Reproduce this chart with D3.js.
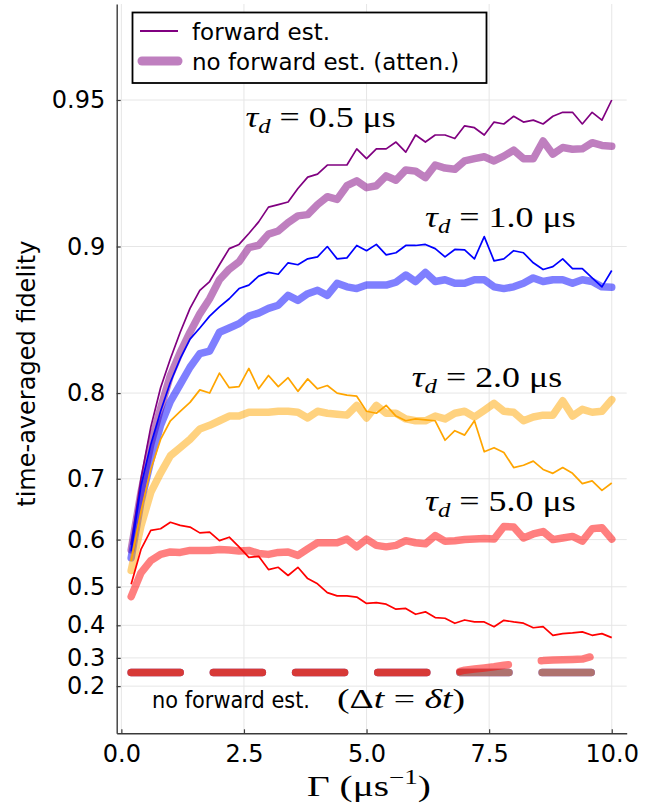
<!DOCTYPE html>
<html>
<head>
<meta charset="utf-8">
<script src="https://cdn.jsdelivr.net/npm/d3@7"></script>
<style>
  body { margin: 0; background: #fff; }
  svg { display: block; }
</style>
</head>
<body>
<svg id="chart" width="659" height="804"></svg>
<script>
// Measurement rate Γ (μs⁻¹)
const gamma = [0.2, 0.4, 0.6, 0.8, 1.0, 1.2, 1.4, 1.6, 1.8, 2.0,
               2.2, 2.4, 2.6, 2.8, 3.0, 3.2, 3.4, 3.6, 3.8, 4.0,
               4.2, 4.4, 4.6, 4.8, 5.0, 5.2, 5.4, 5.6, 5.8, 6.0,
               6.2, 6.4, 6.6, 6.8, 7.0, 7.2, 7.4, 7.6, 7.8, 8.0,
               8.2, 8.4, 8.6, 8.8, 9.0, 9.2, 9.4, 9.6, 9.8, 10.0];

// τd = 0.5 μs
const fwd05 = [0.590, 0.700, 0.765, 0.805, 0.830, 0.850, 0.866, 0.877, 0.882, 0.891,
               0.899, 0.901, 0.906, 0.911, 0.917, 0.918, 0.919, 0.924, 0.928, 0.929,
               0.932, 0.932, 0.932, 0.937, 0.934, 0.937, 0.937, 0.939, 0.936, 0.941,
               0.939, 0.941, 0.941, 0.940, 0.9435, 0.943, 0.941, 0.9445, 0.944, 0.946,
               0.9445, 0.945, 0.944, 0.946, 0.947, 0.947, 0.944, 0.947, 0.945, 0.950];
const att05 = [0.580, 0.680, 0.745, 0.785, 0.816, 0.835, 0.850, 0.8625, 0.872, 0.883,
               0.8887, 0.8925, 0.8995, 0.9006, 0.9057, 0.9071, 0.9107, 0.9135, 0.914, 0.918,
               0.921, 0.920, 0.925, 0.9267, 0.9243, 0.925, 0.9284, 0.9269, 0.9304, 0.930,
               0.9278, 0.932, 0.931, 0.9306, 0.9333, 0.934, 0.9346, 0.9333, 0.9348, 0.9366,
               0.934, 0.934, 0.9393, 0.9354, 0.9374, 0.9369, 0.937, 0.9388, 0.938, 0.9378];
const dt05  = [0.25, 0.25, 0.25, 0.25, 0.25, 0.25, 0.25, 0.25, 0.25, 0.25,
               0.25, 0.25, 0.25, 0.25, 0.25, 0.25, 0.25, 0.25, 0.25, 0.25,
               0.25, 0.25, 0.25, 0.25, 0.25, 0.25, 0.25, 0.25, 0.25, 0.25,
               0.25, 0.25, 0.25, 0.25, 0.25, 0.25, 0.25, 0.25, 0.25, 0.25,
               0.25, 0.25, 0.25, 0.25, 0.25, 0.25, 0.25, 0.25, 0.25, 0.25];

// τd = 1.0 μs
const fwd10 = [0.577, 0.690, 0.745, 0.782, 0.810, 0.830, 0.845, 0.853, 0.861, 0.867,
               0.872, 0.878, 0.880, 0.885, 0.887, 0.886, 0.892, 0.891, 0.894, 0.895,
               0.900, 0.894, 0.8945, 0.9005, 0.898, 0.901, 0.896, 0.897, 0.9005, 0.9005,
               0.901, 0.899, 0.895, 0.8986, 0.8984, 0.894, 0.9046, 0.893, 0.894, 0.898,
               0.897, 0.892, 0.8885, 0.890, 0.894, 0.889, 0.889, 0.884, 0.879, 0.888];
const att10 = [0.564, 0.665, 0.725, 0.767, 0.792, 0.808, 0.823, 0.834, 0.836, 0.850,
               0.853, 0.856, 0.861, 0.863, 0.866, 0.868, 0.874, 0.871, 0.875, 0.877,
               0.874, 0.881, 0.879, 0.878, 0.880, 0.880, 0.880, 0.8816, 0.8856, 0.882,
               0.887, 0.882, 0.883, 0.881, 0.881, 0.883, 0.883, 0.879, 0.878, 0.879,
               0.881, 0.884, 0.882, 0.883, 0.883, 0.881, 0.883, 0.882, 0.879, 0.8787];
const dt10  = [0.25, 0.25, 0.25, 0.25, 0.25, 0.25, 0.25, 0.25, 0.25, 0.25,
               0.25, 0.25, 0.25, 0.25, 0.25, 0.25, 0.25, 0.25, 0.25, 0.25,
               0.25, 0.25, 0.25, 0.25, 0.25, 0.25, 0.25, 0.25, 0.25, 0.25,
               0.25, 0.25, 0.25, 0.25, 0.25, 0.25, 0.25, 0.25, 0.25, 0.25,
               0.25, 0.25, 0.25, 0.25, 0.25, 0.25, 0.25, 0.25, 0.25, 0.25];

// τd = 2.0 μs
const fwd20 = [0.557, 0.650, 0.713, 0.751, 0.772, 0.782, 0.791, 0.803, 0.800, 0.818,
               0.805, 0.806, 0.822, 0.804, 0.816, 0.806, 0.814, 0.8016, 0.813, 0.804,
               0.807, 0.800, 0.798, 0.797, 0.782, 0.780, 0.788, 0.777, 0.772, 0.774,
               0.773, 0.772, 0.750, 0.761, 0.756, 0.772, 0.736, 0.741, 0.735, 0.7155,
               0.7186, 0.724, 0.713, 0.7076, 0.7155, 0.7076, 0.693, 0.697, 0.683, 0.694];
const att20 = [0.537, 0.625, 0.680, 0.708, 0.731, 0.741, 0.751, 0.763, 0.767, 0.772,
               0.777, 0.777, 0.781, 0.781, 0.781, 0.782, 0.782, 0.781, 0.775, 0.782,
               0.780, 0.779, 0.778, 0.788, 0.775, 0.788, 0.780, 0.780, 0.774, 0.772,
               0.772, 0.777, 0.774, 0.780, 0.782, 0.776, 0.783, 0.790, 0.782, 0.781,
               0.772, 0.776, 0.778, 0.778, 0.7926, 0.777, 0.784, 0.781, 0.782, 0.7936];
const dt20  = [0.25, 0.25, 0.25, 0.25, 0.25, 0.25, 0.25, 0.25, 0.25, 0.25,
               0.25, 0.25, 0.25, 0.25, 0.25, 0.25, 0.25, 0.25, 0.25, 0.25,
               0.25, 0.25, 0.25, 0.25, 0.25, 0.25, 0.25, 0.25, 0.25, 0.25,
               0.25, 0.25, 0.25, 0.25, 0.25, 0.25, 0.25, 0.25, 0.25, 0.25,
               0.25, 0.25, 0.25, 0.25, 0.25, 0.25, 0.25, 0.25, 0.25, 0.25];

// τd = 5.0 μs
const fwd50 = [0.506, 0.581, 0.617, 0.620, 0.6315, 0.626, 0.623, 0.6125, 0.614, 0.598,
               0.6045, 0.586, 0.565, 0.567, 0.539, 0.544, 0.526, 0.544, 0.519, 0.507,
               0.486, 0.478, 0.478, 0.475, 0.459, 0.461, 0.457, 0.444, 0.446, 0.4305,
               0.437, 0.4215, 0.4197, 0.4057, 0.415, 0.4095, 0.4095, 0.396, 0.414, 0.4095,
               0.406, 0.393, 0.396, 0.371, 0.376, 0.378, 0.381, 0.371, 0.376, 0.364];
const att50 = [0.476, 0.532, 0.558, 0.571, 0.576, 0.575, 0.579, 0.579, 0.579, 0.5806,
               0.580, 0.578, 0.579, 0.573, 0.571, 0.575, 0.576, 0.569, 0.582, 0.594,
               0.594, 0.594, 0.601, 0.586, 0.601, 0.589, 0.586, 0.589, 0.598, 0.594,
               0.592, 0.6075, 0.597, 0.598, 0.600, 0.601, 0.602, 0.601, 0.624, 0.623,
               0.603, 0.6105, 0.615, 0.600, 0.603, 0.606, 0.597, 0.620, 0.622, 0.601];
const dt50  = [0.25, 0.25, 0.25, 0.25, 0.25, 0.25, 0.25, 0.25, 0.25, 0.25,
               0.25, 0.25, 0.25, 0.25, 0.25, 0.25, 0.25, 0.25, 0.25, 0.25,
               0.25, 0.25, 0.25, 0.25, 0.25, 0.25, 0.25, 0.25, 0.25, 0.25,
               0.25, 0.25, 0.25, 0.25, 0.258, 0.262, 0.266, 0.270, 0.275, 0.279,
               0.283, 0.287, 0.291, 0.293, 0.294, 0.295, 0.296, 0.305, 0.302, 0.300];

const tauLabels = ["0.5", "1.0", "2.0", "5.0"];
const xTicks = [0, 2.5, 5, 7.5, 10];
const xTickLabels = ["0.0", "2.5", "5.0", "7.5", "10.0"];
const yTicks = [0.2, 0.3, 0.4, 0.5, 0.6, 0.7, 0.8, 0.9, 0.95];
const yTickLabels = ["0.2", "0.3", "0.4", "0.5", "0.6", "0.7", "0.8", "0.9", "0.95"];

const groups = [
  { color: "#800080", fwd: fwd05, att: att05, dt: dt05 },
  { color: "#0000ff", fwd: fwd10, att: att10, dt: dt10 },
  { color: "#ffa500", fwd: fwd20, att: att20, dt: dt20 },
  { color: "#ff0000", fwd: fwd50, att: att50, dt: dt50 }
];

// ---- layout ----
const plotL = 116.7, plotR = 626.7, plotT = 4, plotB = 733.3;
const sans = "'DejaVu Sans', sans-serif";
const serif = "'Liberation Serif', 'DejaVu Serif', serif";

const svg = d3.select("#chart");

const x = d3.scaleLinear().domain([-0.095, 10.305]).range([plotL, plotR]);
// fidelity axis: logarithmic in the infidelity 1 - F
const yLog = d3.scaleLog().domain([1, 0.03175]).range([plotB, plotT]);
const y = f => yLog(1 - f);

// grid
const grid = svg.append("g").attr("stroke", "#e6e6e6").attr("stroke-width", 1);
grid.selectAll("line.gx").data(xTicks).join("line").attr("class", "gx")
  .attr("x1", d => x(d)).attr("x2", d => x(d))
  .attr("y1", plotT).attr("y2", plotB);
grid.selectAll("line.gy").data(yTicks).join("line").attr("class", "gy")
  .attr("x1", plotL).attr("x2", plotR)
  .attr("y1", d => y(d)).attr("y2", d => y(d));

// series
const line = d3.line().x((d, i) => x(gamma[i])).y(d => y(d));
const plot = svg.append("g").attr("fill", "none")
  .attr("stroke-linejoin", "round");

groups.forEach(g => {
  plot.append("path").datum(g.fwd).attr("d", line)
    .attr("stroke", g.color).attr("stroke-width", 1.7);
  plot.append("path").datum(g.att).attr("d", line)
    .attr("stroke", g.color).attr("stroke-opacity", 0.5)
    .attr("stroke-width", 7.5).attr("stroke-linecap", "round");
});
groups.forEach(g => {
  plot.append("path").datum(g.dt).attr("d", line)
    .attr("stroke", g.color).attr("stroke-opacity", 0.5)
    .attr("stroke-width", 7.5).attr("stroke-linecap", "round")
    .attr("stroke-dasharray", "49 33.2");
});

// axes
const gx = svg.append("g").attr("transform", `translate(0,${plotB})`)
  .call(d3.axisBottom(x).tickValues(xTicks)
    .tickFormat((d, i) => xTickLabels[i])
    .tickSizeInner(-4).tickSizeOuter(0).tickPadding(12));
const gy = svg.append("g").attr("transform", `translate(${plotL},0)`)
  .call(d3.axisLeft(yLog).tickValues(yTicks.map(f => 1 - f))
    .tickFormat((d, i) => yTickLabels[i])
    .tickSizeInner(-4).tickSizeOuter(0).tickPadding(11.5));
[gx, gy].forEach(g => {
  g.select(".domain").attr("stroke", "#3a3a3a").attr("stroke-width", 1.4);
  g.selectAll(".tick line").attr("stroke", "#3a3a3a").attr("stroke-width", 1.2);
  g.selectAll(".tick text").attr("fill", "#000")
    .style("font-family", sans).style("font-size", "24px");
});

// axis titles
svg.append("text")
  .attr("transform", "translate(35,373.7) rotate(-90)")
  .attr("text-anchor", "middle")
  .style("font-family", sans).style("font-size", "24px")
  .text("time-averaged fidelity");

// fit a text element horizontally between x0 and x1
function fitWidth(sel, x0, x1) {
  const w = sel.node().getBBox().width;
  const sx = (x1 - x0) / w;
  sel.attr("transform", `translate(${x0},0) scale(${sx},1) translate(${-x0},0)`);
}

const xt = svg.append("text").attr("x", 307).attr("y", 796)
  .style("font-family", serif).style("font-size", "29px");
xt.append("tspan").text("Γ (μs");
xt.append("tspan").attr("dy", -12).style("font-size", "20px").text("−1");
xt.append("tspan").attr("dy", 12).text(")");
fitWidth(xt, 307, 431);

// τd annotations
const tauPos = [
  { x0: 245.4, x1: 395.8, base: 127 },
  { x0: 425.0, x1: 575.8, base: 227 },
  { x0: 411.8, x1: 562.2, base: 387 },
  { x0: 425.0, x1: 575.8, base: 511 }
];
tauLabels.forEach((lab, i) => {
  const p = tauPos[i];
  const t = svg.append("text").attr("x", p.x0).attr("y", p.base)
    .style("font-family", serif).style("font-size", "29px");
  t.append("tspan").style("font-style", "italic").text("τ");
  t.append("tspan").style("font-style", "italic").style("font-size", "20px")
    .attr("dy", 6).text("d");
  t.append("tspan").attr("dy", -6).text(" = " + lab + " μs");
  fitWidth(t, p.x0, p.x1);
});

// label for the dashed curves
const nf = svg.append("text").attr("x", 152).attr("y", 708)
  .style("font-family", sans).style("font-size", "23px")
  .text("no forward est.");
fitWidth(nf, 152, 310);
const nm = svg.append("text").attr("x", 337).attr("y", 708)
  .style("font-family", serif).style("font-size", "28px");
nm.append("tspan").text("(Δ");
nm.append("tspan").style("font-style", "italic").text("t");
nm.append("tspan").text(" = ");
nm.append("tspan").style("font-style", "italic").text("δt");
nm.append("tspan").text(")");
fitWidth(nm, 337, 465);

// legend
const lg = svg.append("g");
lg.append("rect").attr("x", 132.5).attr("y", 12.5).attr("width", 354).attr("height", 70.5)
  .attr("fill", "#fff").attr("stroke", "#000").attr("stroke-width", 1.8);
lg.append("line").attr("x1", 140).attr("x2", 178).attr("y1", 31).attr("y2", 31)
  .attr("stroke", groups[0].color).attr("stroke-width", 1.8);
lg.append("line").attr("x1", 142).attr("x2", 178).attr("y1", 61).attr("y2", 61)
  .attr("stroke", groups[0].color).attr("stroke-opacity", 0.5)
  .attr("stroke-width", 9).attr("stroke-linecap", "round");
lg.append("text").attr("x", 192).attr("y", 40)
  .style("font-family", sans).style("font-size", "23px").text("forward est.");
lg.append("text").attr("x", 192).attr("y", 70)
  .style("font-family", sans).style("font-size", "23px").text("no forward est. (atten.)");
</script>
</body>
</html>
